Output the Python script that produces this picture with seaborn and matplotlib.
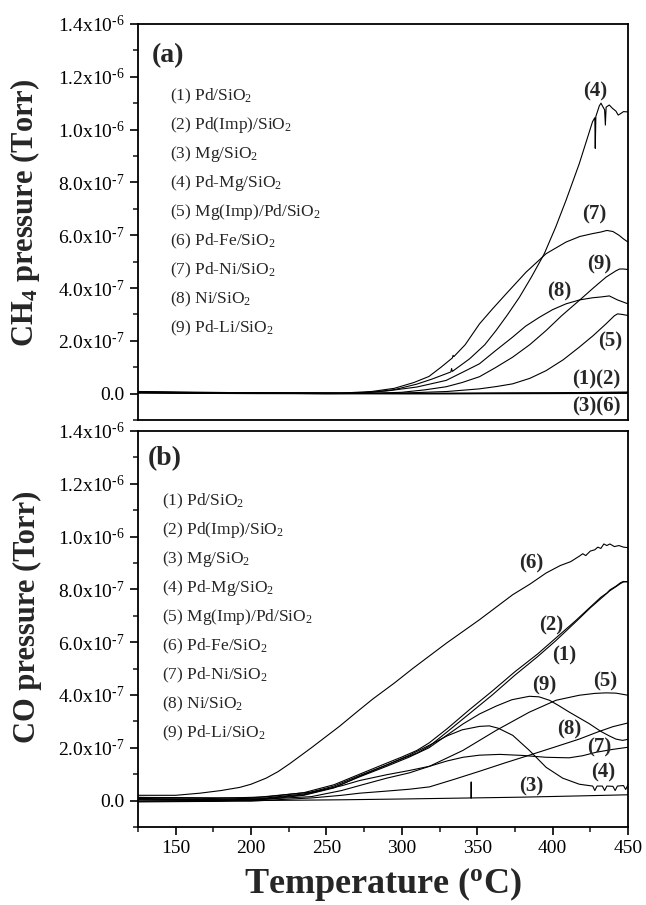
import matplotlib
matplotlib.use("Agg")
import matplotlib.pyplot as plt
import pandas as pd
import seaborn as sns
from matplotlib.ticker import MultipleLocator, FixedLocator

# ============================
# Data (pressure in units of 1e-7 Torr, temperature in deg C)
# ============================

# (a) CH4 signal
ch4_1 = [(125, 0.06), (180, 0.03), (250, 0.01), (330, 0.0), (400, 0.02), (450, 0.04)]
ch4_2 = [(125, 0.04), (180, 0.02), (250, 0.0), (330, 0.01), (400, 0.03), (450, 0.06)]
ch4_3 = [(125, 0.02), (200, 0.0), (300, -0.01), (400, 0.0), (450, 0.01)]
ch4_6 = [(125, 0.08), (200, 0.03), (300, 0.01), (400, 0.02), (450, 0.03)]
ch4_4 = [(125, 0.05), (200, 0.02), (260, 0.01), (280, 0.05), (295, 0.15), (310, 0.36),
         (320, 0.55), (332.5, 0.82), (333, 0.95), (333.5, 0.84), (345, 1.32), (355, 1.85),
         (362.5, 2.39), (370, 2.98), (378, 3.65), (386, 4.42), (394.5, 5.30), (402, 6.3),
         (408.9, 7.32), (417.7, 8.71), (426.5, 10.3), (428.0, 10.45),
         (428.3, 9.29), (428.7, 10.5), (431, 10.9), (432.1, 11.0), (433.5, 10.85), (434.5, 10.75),
         (435.0, 10.17), (435.5, 10.85), (437.6, 10.93), (439.8, 10.8), (442, 10.7), (443.5, 10.55),
         (445, 10.6), (447, 10.68), (450, 10.67)]
ch4_7 = [(125, 0.05), (200, 0.02), (260, 0.02), (280, 0.08), (295, 0.2), (308, 0.42), (318, 0.65),
         (326, 1.0), (333.5, 1.35), (334, 1.45), (334.5, 1.4), (342, 1.85), (351.5, 2.64), (360, 3.2),
         (369.2, 3.78), (382.4, 4.60), (395.7, 5.30), (408.9, 5.74), (418, 5.95), (426.5, 6.06),
         (432, 6.12), (436, 6.18), (440, 6.14), (444, 6.0), (447, 5.86), (450, 5.74)]
ch4_8 = [(125, 0.05), (200, 0.02), (270, 0.02), (290, 0.1), (310, 0.25), (329.4, 0.5), (340, 0.8),
         (351.5, 1.13), (362, 1.62), (373.5, 2.14), (382, 2.55), (391.2, 2.89), (400, 3.18),
         (408.9, 3.40), (418, 3.55), (426.5, 3.63), (432, 3.66), (437.6, 3.7),
         (443, 3.55), (450, 3.40)]
ch4_9 = [(125, 0.04), (200, 0.01), (280, 0.01), (300, 0.05), (315, 0.14), (329.4, 0.26),
         (340, 0.42), (351.5, 0.64), (362, 0.98), (373.5, 1.38), (385, 1.86), (395.7, 2.39),
         (406, 2.95), (417.7, 3.53), (427, 4.0), (435.4, 4.41), (442, 4.65), (444.5, 4.72),
         (447, 4.72), (450, 4.70)]
ch4_5 = [(125, 0.04), (250, 0.0), (300, 0.02), (330, 0.08), (351.5, 0.18), (363, 0.27),
         (373.5, 0.37), (385, 0.58), (395.7, 0.87), (407, 1.28), (417.7, 1.76), (427, 2.2),
         (435.4, 2.64), (441, 2.95), (443.1, 3.02), (446, 3.0), (450, 2.96)]

# (b) CO signal
co_1 = [(125, 0.08), (175, 0.05), (210, 0.1), (235, 0.25), (255, 0.55), (272, 0.95), (290, 1.35),
        (300, 1.58), (310, 1.8), (318, 2.05), (330, 2.6), (345, 3.3), (360, 4.0), (375, 4.75),
        (390, 5.45), (402, 6.05), (415, 6.75), (425, 7.3), (432, 7.65), (438, 7.95), (442, 8.1),
        (445, 8.22), (447, 8.28), (450, 8.3)]
co_2 = [(125, 0.12), (175, 0.08), (210, 0.14), (235, 0.3), (255, 0.6), (272, 1.0), (290, 1.42),
        (300, 1.65), (310, 1.9), (318, 2.18), (330, 2.72), (345, 3.45), (360, 4.15), (375, 4.88),
        (390, 5.55), (402, 6.15), (415, 6.8), (425, 7.33), (432, 7.7), (436, 7.86), (438, 7.98),
        (442, 8.12), (445, 8.25), (447, 8.3), (450, 8.28)]
co_3 = [(125, 0.03), (200, 0.0), (260, 0.03), (300, 0.06), (346, 0.1), (346, 0.7), (346, 0.1),
        (380, 0.13), (420, 0.18), (450, 0.22)]
co_4 = [(125, -0.03), (175, -0.02), (210, 0.05), (235, 0.2), (255, 0.48), (272, 0.92), (290, 1.35),
        (305, 1.72), (318.4, 2.1), (330, 2.45), (340, 2.68), (351.5, 2.81), (358, 2.83), (364, 2.74),
        (373.6, 2.47), (384.6, 1.90), (395.7, 1.26), (406.7, 0.85), (417.7, 0.62), (426.6, 0.55),
        (428, 0.38), (429.5, 0.55), (433, 0.55), (434.5, 0.38), (436, 0.55), (440, 0.54),
        (441.5, 0.38), (443, 0.55), (447, 0.57), (448.5, 0.42), (450, 0.6)]
co_5 = [(125, 0.05), (200, 0.03), (240, 0.15), (260, 0.38), (272, 0.57), (290, 0.85), (305, 1.05),
        (318.4, 1.3), (340.5, 1.90), (362.6, 2.66), (384.6, 3.35), (402.3, 3.80), (417.7, 3.99),
        (428, 4.06), (435.4, 4.08), (442, 4.07), (450, 3.99)]
co_6 = [(125, 0.2), (150, 0.2), (166, 0.28), (180, 0.38), (192.5, 0.5), (200, 0.62), (210, 0.85),
        (218, 1.1), (225.7, 1.40), (240, 2.0), (258.8, 2.82), (270, 3.35), (280.8, 3.85),
        (295, 4.45), (307.4, 5.01), (329.5, 5.96), (351.5, 6.85), (373.6, 7.80), (385, 8.2),
        (395.7, 8.62), (405, 8.9), (412, 9.05), (417.8, 9.26), (420, 9.35), (422, 9.28),
        (425, 9.45), (428, 9.5), (430, 9.6), (432, 9.55), (434, 9.72), (436, 9.66), (438, 9.72),
        (441, 9.62), (444, 9.66), (447, 9.6), (450, 9.58)]
co_7 = [(125, 0.12), (200, 0.1), (240, 0.32), (260, 0.56), (272, 0.76), (290, 0.98), (305, 1.14),
        (318.4, 1.3), (330, 1.5), (340.5, 1.64), (351.5, 1.72), (365, 1.75), (380, 1.71),
        (395.7, 1.64), (411, 1.62), (420, 1.7), (428.8, 1.83), (440, 1.94), (450, 2.02)]
co_8 = [(125, -0.05), (200, -0.02), (240, 0.1), (260, 0.2), (272, 0.28), (290, 0.36), (305, 0.43),
        (318.4, 0.52), (335, 0.81), (351.5, 1.11), (368, 1.42), (384.6, 1.72), (401, 2.02),
        (417.7, 2.33), (430, 2.6), (440, 2.8), (450, 2.94)]
co_9 = [(125, 0.02), (175, 0.0), (210, 0.08), (235, 0.22), (255, 0.5), (272, 0.9), (290, 1.3),
        (305, 1.65), (318, 2.0), (330, 2.48), (340.5, 2.9), (351.5, 3.28), (362.6, 3.58), (373, 3.82),
        (384.6, 3.95), (391, 3.93), (397.9, 3.80), (404, 3.6), (411.1, 3.35), (424.4, 2.91),
        (432, 2.62), (437.6, 2.45), (442, 2.33), (446.4, 2.28), (450, 2.32)]

legend_entries = ["(1) Pd/SiO$_2$", "(2) Pd(Imp)/SiO$_2$", "(3) Mg/SiO$_2$", "(4) Pd-Mg/SiO$_2$",
                  "(5) Mg(Imp)/Pd/SiO$_2$", "(6) Pd-Fe/SiO$_2$", "(7) Pd-Ni/SiO$_2$",
                  "(8) Ni/SiO$_2$", "(9) Pd-Li/SiO$_2$"]

# curve tags: text, temperature, pressure (1e-7 Torr)
ch4_tags = ["(4)", "(7)", "(9)", "(8)", "(5)", "(1)(2)", "(3)(6)"]
ch4_tag_T = [428.3, 427.6, 431, 404.5, 438.2, 429, 429]
ch4_tag_p = [11.46, 6.79, 4.89, 3.87, 1.97, 0.53, -0.49]
co_tags = ["(6)", "(2)", "(1)", "(9)", "(5)", "(8)", "(7)", "(4)", "(3)"]
co_tag_T = [385.6, 398.8, 407.8, 394.5, 434.6, 410.8, 431, 433.3, 385.6]
co_tag_p = [8.97, 6.62, 5.48, 4.37, 4.52, 2.70, 2.0, 1.06, 0.53]

xticks = [150, 200, 250, 300, 350, 400, 450]
yticks = [0, 2e-7, 4e-7, 6e-7, 8e-7, 1.0e-6, 1.2e-6, 1.4e-6]
ytick_labels = ["0.0", "2.0x10$^{\u20107}$", "4.0x10$^{\u20107}$", "6.0x10$^{\u20107}$",
                "8.0x10$^{\u20107}$", "1.0x10$^{\u20106}$", "1.2x10$^{\u20106}$", "1.4x10$^{\u20106}$"]

# ============================
# Helper Functions
# ============================

def draw_curves(ax, curves):
    """Draw every curve of a panel as a thin black line."""
    for pts in curves:
        df = pd.DataFrame(pts, columns=["temp", "p"])
        df["p"] = df["p"] * 1e-7
        sns.lineplot(data=df, x="temp", y="p", ax=ax, estimator=None, sort=False,
                     color="black", linewidth=0.8)


def style_axes(ax, show_x):
    ax.set_xlim(125, 450)
    ax.set_ylim(-1e-7, 1.4e-6)
    ax.yaxis.set_major_locator(FixedLocator(yticks))
    ax.set_yticklabels(ytick_labels)
    ax.yaxis.set_minor_locator(MultipleLocator(1e-7))
    ax.xaxis.set_major_locator(FixedLocator(xticks))
    ax.xaxis.set_minor_locator(MultipleLocator(25))
    ax.tick_params(which="major", direction="out", length=6, width=1.2, labelsize=14,
                   colors="black", top=False, right=False)
    ax.tick_params(which="minor", direction="out", length=3.5, width=1.2, top=False, right=False)
    if not show_x:
        ax.tick_params(axis="x", which="both", bottom=False, labelbottom=False)
    for sp in ax.spines.values():
        sp.set_linewidth(1.3)
        sp.set_color("black")
    ax.set_xlabel("")
    ax.grid(False)


def add_legend_text(ax, x0, y0):
    for i, entry in enumerate(legend_entries):
        ax.text(x0, y0 - i * 0.0735, entry, transform=ax.transAxes, fontsize=12.5,
                ha="left", va="baseline")


def add_tags(ax, tags, temps, vals):
    for t, x, y in zip(tags, temps, vals):
        ax.text(x, y * 1e-7, t, fontsize=15, fontweight="bold", ha="center", va="center")

# ============================
# Main
# ============================

def main():
    sns.set_theme(style="ticks")
    plt.rcParams["font.family"] = ["Liberation Serif", "DejaVu Serif"]
    plt.rcParams["mathtext.fontset"] = "custom"
    plt.rcParams["mathtext.rm"] = "Liberation Serif"
    plt.rcParams["mathtext.it"] = "Liberation Serif:italic"
    plt.rcParams["mathtext.bf"] = "Liberation Serif:bold"

    fig = plt.figure(figsize=(6.46, 9.05), dpi=100)
    ax_a = fig.add_axes([0.2136, 0.5359, 0.7585, 0.4376])
    ax_b = fig.add_axes([0.2136, 0.0862, 0.7585, 0.4376])

    draw_curves(ax_a, [ch4_1, ch4_2, ch4_3, ch4_6, ch4_4, ch4_7, ch4_8, ch4_9, ch4_5])
    draw_curves(ax_b, [co_1, co_2, co_3, co_4, co_5, co_6, co_7, co_8, co_9])

    style_axes(ax_a, show_x=False)
    style_axes(ax_b, show_x=True)

    ax_a.set_ylabel("CH$_\\mathbf{4}$ pressure (Torr)", fontsize=22, fontweight="bold")
    ax_b.set_ylabel("CO pressure (Torr)", fontsize=22, fontweight="bold")
    ax_a.yaxis.set_label_coords(-0.196, 0.523)
    ax_b.yaxis.set_label_coords(-0.196, 0.53)
    ax_b.set_xlabel("Temperature ($^\\mathbf{o}$C)", fontsize=26, fontweight="bold")
    ax_b.xaxis.set_label_coords(0.5, -0.095)

    ax_a.text(0.029, 0.92, "(a)", transform=ax_a.transAxes, fontsize=20, fontweight="bold",
              ha="left", va="center")
    ax_b.text(0.02, 0.929, "(b)", transform=ax_b.transAxes, fontsize=20, fontweight="bold",
              ha="left", va="center")

    add_legend_text(ax_a, 0.065, 0.808)
    add_legend_text(ax_b, 0.049, 0.813)
    add_tags(ax_a, ch4_tags, ch4_tag_T, ch4_tag_p)
    add_tags(ax_b, co_tags, co_tag_T, co_tag_p)

    fig.savefig("out.png", dpi=100)
    plt.close(fig)


if __name__ == "__main__":
    main()
